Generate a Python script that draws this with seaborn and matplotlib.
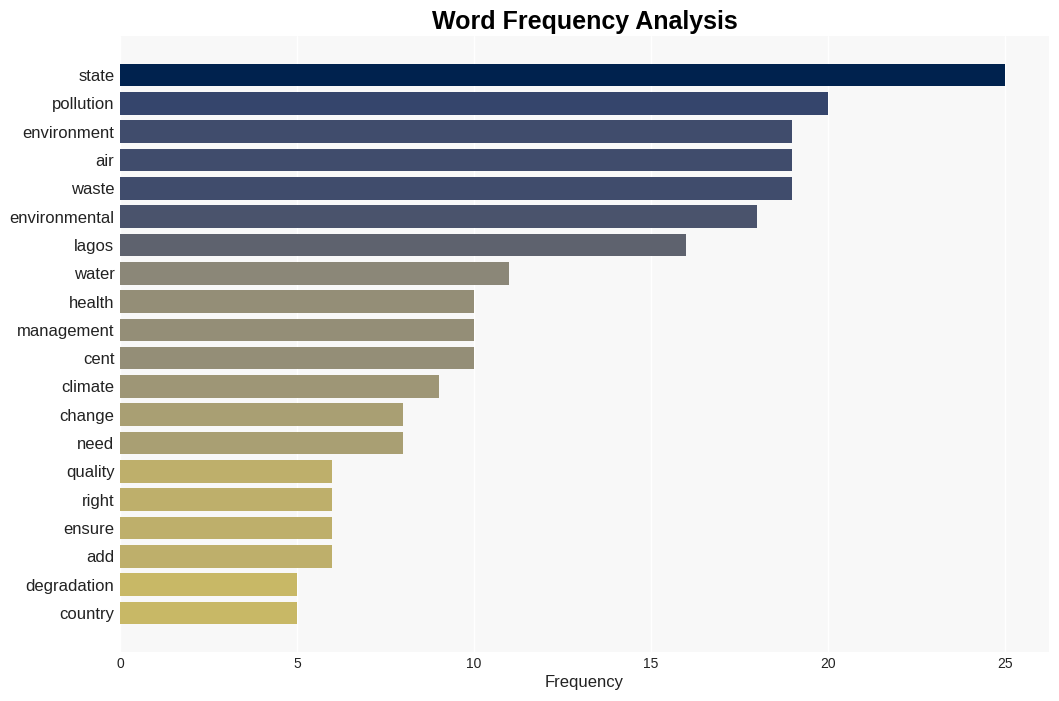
import pandas as pd
import matplotlib.pyplot as plt
import seaborn as sns

# Word counts
words = ['state', 'pollution', 'environment', 'air', 'waste', 'environmental',
         'lagos', 'water', 'health', 'management', 'cent', 'climate', 'change',
         'need', 'quality', 'right', 'ensure', 'add', 'degradation', 'country']
counts = [25, 20, 19, 19, 19, 18, 16, 11, 10, 10, 10, 9, 8, 8, 6, 6, 6, 6, 5, 5]

df = pd.DataFrame({'word': words, 'count': counts})

sns.set_theme(style='darkgrid', rc={'axes.facecolor': '#f8f8f8', 'grid.color': 'white'})
plt.rcParams['font.family'] = ['Liberation Sans', 'DejaVu Sans']

fig, ax = plt.subplots(figsize=(10.59, 7.01), dpi=100)
fig.subplots_adjust(left=0.1133, right=0.9906, top=0.9486, bottom=0.0699)

sns.barplot(data=df, x='count', y='word', hue='count', palette='cividis_r',
            hue_norm=(0, 25), width=0.8, saturation=1, linewidth=0,
            legend=False, ax=ax)

ax.set_title('Word Frequency Analysis', fontsize=18, fontweight='bold',
             color='black', pad=5)
ax.set_xlabel('Frequency', fontsize=12, color='#222222', labelpad=3)
ax.set_ylabel('')
ax.set_xlim(0, 26.25)
ax.set_ylim(len(words) - 1 + 1.38, -1.38)
ax.set_xticks([0, 5, 10, 15, 20, 25])
ax.tick_params(axis='x', labelsize=10, colors='#222222', length=0, pad=3.5)
ax.tick_params(axis='y', labelsize=12, colors='#222222', length=0, pad=4)
for s in ax.spines.values():
    s.set_visible(False)

plt.savefig('out.png')
